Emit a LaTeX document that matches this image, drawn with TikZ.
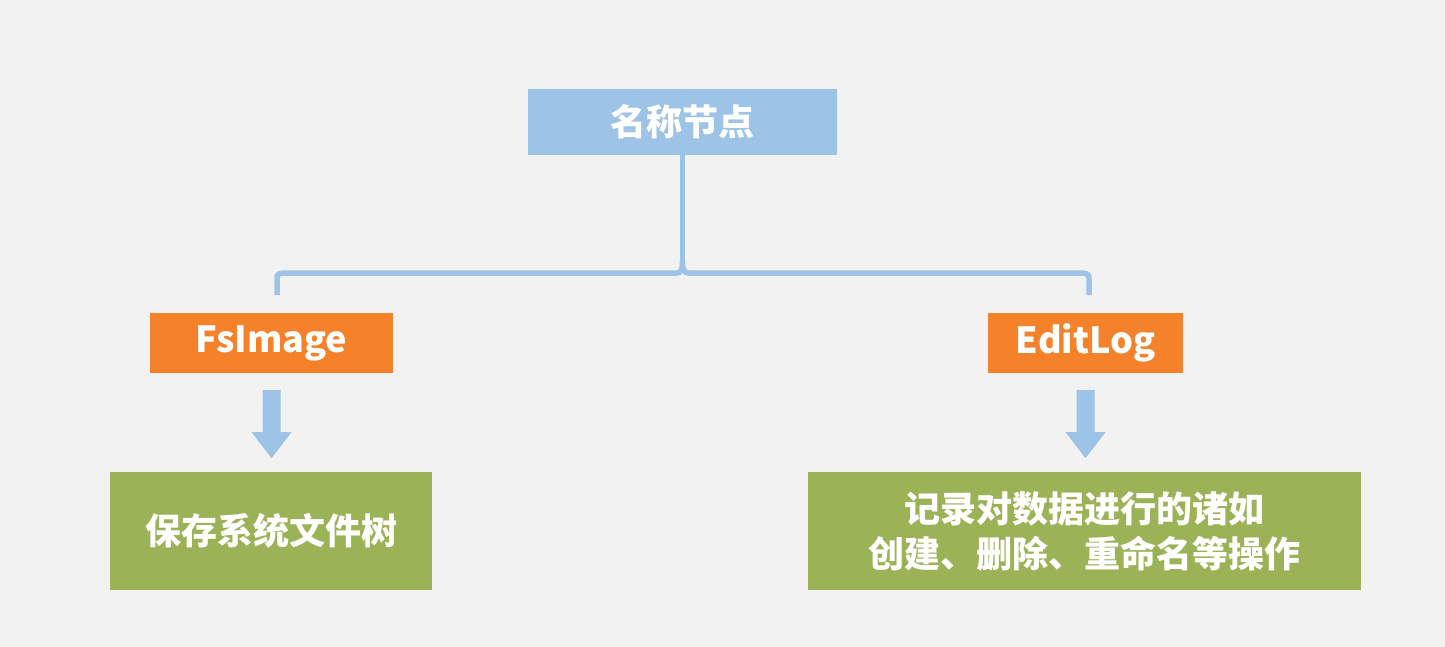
\documentclass[tikz,border=0pt]{standalone}
\usepackage{fontspec}
\newfontfamily\cjk{Noto Sans CJK SC}
\definecolor{bgcol}{HTML}{F2F2F2}
\definecolor{headblue}{HTML}{9DC3E6}
\definecolor{tagorange}{HTML}{F5822A}
\definecolor{notegreen}{HTML}{9BB257}
\tikzset{
  box/.style={rectangle, inner sep=0pt, text=white, align=center,
    font=\cjk\bfseries\fontsize{36}{45}\selectfont},
  headbox/.style={box, fill=headblue, minimum width=309pt, minimum height=66pt},
  tagbox/.style={box, fill=tagorange, minimum height=60pt},
  notebox/.style={box, fill=notegreen, minimum height=118pt},
  link/.style={draw=headblue, line width=5.5pt},
  blockarrow/.style={fill=headblue}
}
\begin{document}
\begin{tikzpicture}[x=1pt, y=-1pt]
  \fill[bgcol] (0,0) rectangle (1445,647);
  \useasboundingbox (0,0) rectangle (1445,647);

  % nodes
  \node[headbox] (top) at (682.5,122) {名称节点};
  \node[tagbox, minimum width=243pt] (fs) at (271.5,343) {FsImage};
  \node[tagbox, minimum width=195pt] (el) at (1085.5,343) {EditLog};
  \node[notebox, minimum width=322pt] (fsnote) at (271,531) {保存系统文件树};
  \node[notebox, minimum width=553pt] (elnote) at (1084.5,531)
    {记录对数据进行的诸如\\创建、删除、重命名等操作};

  % brace joining the head node to both branches
  \coordinate (tip) at (682.5,262);
  \coordinate (bl) at (277,295);
  \coordinate (br) at (1089,295);
  \draw[link] (top.south) -- (tip);
  \draw[link, line join=round]
    (bl) -- (277,281) .. controls (277,274) .. (284,273)
    -- (677,273) .. controls (681,273) and (682.5,269) .. (tip)
    .. controls (682.5,269) and (684,273) .. (688,273)
    -- (1082,273) .. controls (1089,274) .. (1089,281) -- (br);

  % block arrows from each tag to its note
  \foreach \src in {fs, el} {
    \fill[blockarrow, shift={(\src.south)}]
      (-9,17) -- (-9,59) -- (-20,59) -- (0,85) -- (20,59) -- (9,59) -- (9,17) -- cycle;
  }
\end{tikzpicture}
\end{document}
